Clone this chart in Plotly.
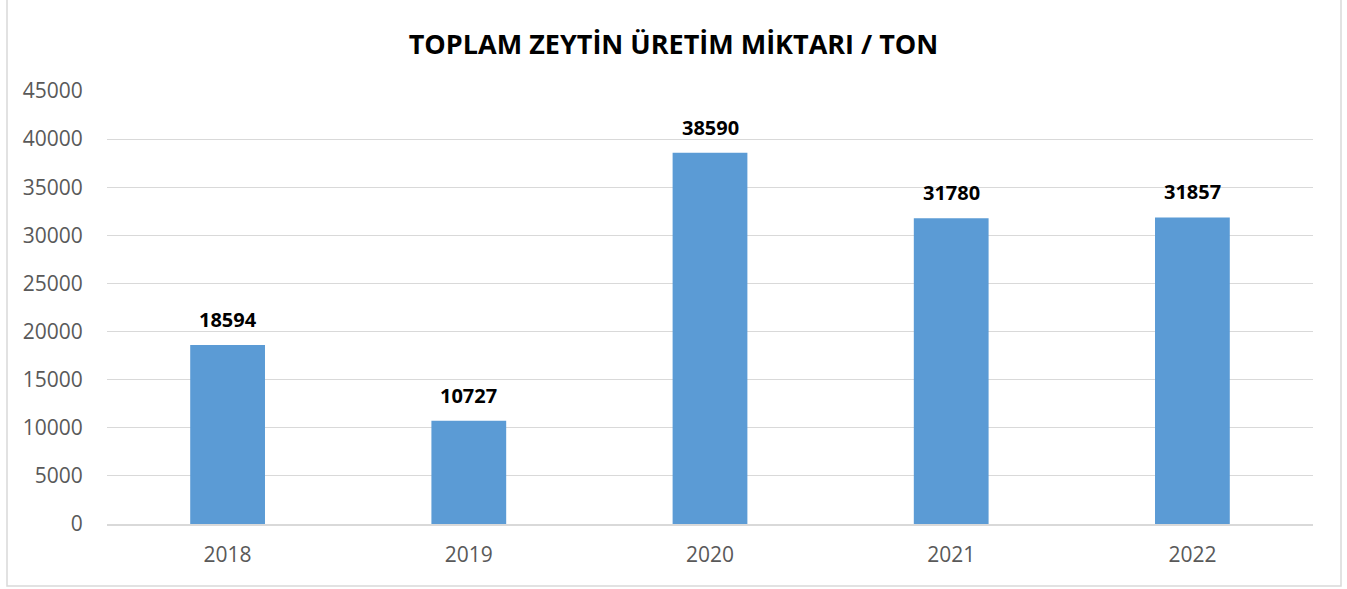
import plotly.graph_objects as go

years = ["2018", "2019", "2020", "2021", "2022"]
values = [18594, 10727, 38590, 31780, 31857]
y_ticks = [0, 5000, 10000, 15000, 20000, 25000, 30000, 35000, 40000, 45000]
y_tick_labels = [str(v) for v in y_ticks]

W, H = 1347, 589
L, R, T, B = 107, 34, 91, 65
pw, ph = W - L - R, H - T - B

fig = go.Figure(go.Bar(
    x=years, y=values,
    marker=dict(color="#5b9bd5", line=dict(width=0)),
    width=0.31,
    hoverinfo="x+y",
))

for i, v in enumerate(values):
    fig.add_annotation(x=i, y=v, text=f"<b>{v}</b>", showarrow=False,
                       yanchor="bottom", yshift=10,
                       font=dict(family="Open Sans", size=20, color="#000000"))

fig.update_layout(
    width=W, height=H,
    margin=dict(l=L, r=R, t=T, b=B),
    paper_bgcolor="white", plot_bgcolor="white",
    title=dict(text="<b>TOPLAM ZEYTİN ÜRETİM MİKTARI / TON</b>",
               x=0.5, xanchor="center", y=1 - 45 / H, yanchor="middle",
               font=dict(family="Open Sans", size=27, color="#000000")),
    showlegend=False,
    shapes=[dict(type="rect", xref="paper", yref="paper",
                 x0=(7 - L) / pw, x1=(1341 - L) / pw,
                 y0=(H - B - 586) / ph, y1=(H - B + 3) / ph,
                 line=dict(color="#d9d9d9", width=1.5), fillcolor="rgba(0,0,0,0)", layer="below")],
)
fig.update_xaxes(type="category", categoryarray=years, range=[-0.5, len(years) - 0.5],
                 showgrid=False, showline=True, linecolor="#d9d9d9", linewidth=1.5,
                 ticks="outside", ticklen=11, tickcolor="rgba(0,0,0,0)",
                 tickfont=dict(family="Open Sans", size=21, color="#595959"))
fig.update_yaxes(range=[0, 45000], tickvals=y_ticks, ticktext=y_tick_labels,
                 showgrid=True, gridcolor="#d9d9d9",
                 gridwidth=1, zeroline=False, showline=False, ticks="outside", ticklen=19,
                 tickcolor="rgba(0,0,0,0)",
                 tickfont=dict(family="Open Sans", size=21, color="#595959"))

fig.write_html("out.html", config={"displayModeBar": False},
               post_script="document.body.style.margin='0';")
